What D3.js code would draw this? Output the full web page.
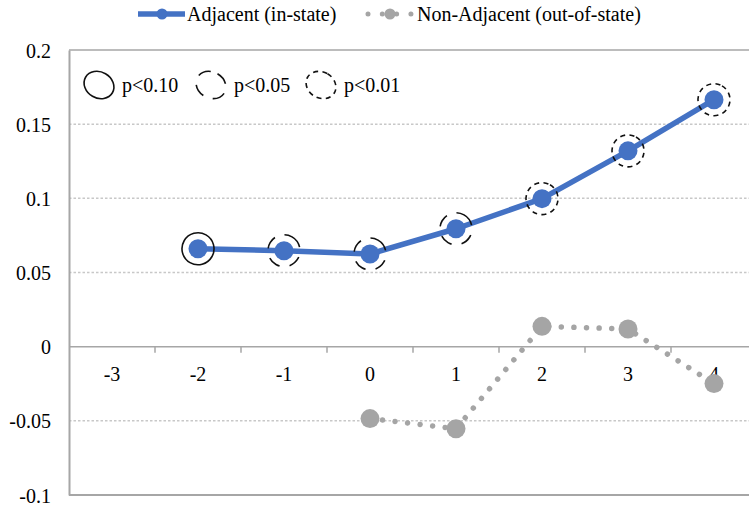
<!DOCTYPE html>
<html>
<head>
<meta charset="utf-8">
<script src="https://cdn.jsdelivr.net/npm/d3@7"></script>
<style>
  html, body { margin: 0; padding: 0; background: #fff; }
  svg { display: block; font-family: "Liberation Serif", "Times New Roman", serif; }
</style>
</head>
<body>
<svg id="chart" width="749" height="508"></svg>
<script>
// ---- data ----
const categories = ["-3", "-2", "-1", "0", "1", "2", "3", "4"];
const adjacentCats = ["-2", "-1", "0", "1", "2", "3", "4"];
const adjacentValues = [0.066, 0.0647, 0.0625, 0.0795, 0.0998, 0.132, 0.1665];
const adjacentSig = ["p10", "p05", "p05", "p05", "p01", "p01", "p01"];
const nonAdjCats = ["0", "1", "2", "3", "4"];
const nonAdjValues = [-0.0485, -0.0553, 0.0137, 0.0119, -0.0249];
const yTicks = [-0.1, -0.05, 0, 0.05, 0.1, 0.15, 0.2];
const yTickLabels = ["-0.1", "-0.05", "0", "0.05", "0.1", "0.15", "0.2"];
const seriesNames = ["Adjacent (in-state)", "Non-Adjacent (out-of-state)"];
const sigKeys = ["p10", "p05", "p01"];
const sigLabels = ["p<0.10", "p<0.05", "p<0.01"];

// ---- styles ----
const BLUE = "#4472C4", GRAY = "#A5A5A5", AXIS = "#A6A6A6", GRID = "#C8C8C8";
const sigDash = { p10: null, p05: "13 10", p01: "5 4.3" };

const svg = d3.select("#chart");
const pL = 69, pR = 757, pT = 50, pB = 495;

const x = d3.scaleBand().domain(categories).range([pL, pR]).padding(0);
const y = d3.scaleLinear().domain([-0.1, 0.2]).range([pB, pT]);
const cx = c => x(c) + x.bandwidth() / 2;
const isSolid = d => (d === 0.2 || d === 0 || d === -0.1);

// gridlines
svg.append("g").selectAll("line").data(yTicks).join("line")
  .attr("x1", pL).attr("x2", pR)
  .attr("y1", d => y(d)).attr("y2", d => y(d))
  .attr("stroke", d => isSolid(d) ? AXIS : GRID)
  .attr("stroke-width", d => (d === -0.1) ? 2 : 1.5)
  .attr("stroke-dasharray", d => isSolid(d) ? null : "2.5 2");

// y axis
const yAxis = d3.axisLeft(y).tickValues(yTicks)
  .tickFormat((d, i) => yTickLabels[i]).tickSize(0).tickPadding(18);
const gy = svg.append("g").attr("transform", `translate(${pL},0)`).call(yAxis);
gy.select(".domain").attr("stroke", AXIS).attr("stroke-width", 2);
gy.selectAll("text").attr("font-size", 20).attr("fill", "#000")
  .attr("font-family", "Liberation Serif, Times New Roman, serif").attr("dy", "0.35em");

// x axis at zero
const xAxis = d3.axisBottom(x).tickSize(0).tickPadding(20);
const gx = svg.append("g").attr("transform", `translate(0,${y(0)})`).call(xAxis);
gx.select(".domain").remove();
gx.selectAll("text").attr("font-size", 20).attr("fill", "#000")
  .attr("font-family", "Liberation Serif, Times New Roman, serif");
// boundary ticks
svg.append("g").selectAll("line").data(categories.slice(1)).join("line")
  .attr("x1", d => x(d)).attr("x2", d => x(d))
  .attr("y1", y(0)).attr("y2", y(0) + 6)
  .attr("stroke", AXIS).attr("stroke-width", 1.5);

// non-adjacent series
const nonAdj = nonAdjCats.map((c, i) => ({ c, v: nonAdjValues[i] }));
svg.append("path").datum(nonAdj)
  .attr("d", d3.line().x(d => cx(d.c)).y(d => y(d.v)))
  .attr("fill", "none").attr("stroke", GRAY).attr("stroke-width", 5.5)
  .attr("stroke-linecap", "round").attr("stroke-dasharray", "0.01 12.6");
svg.append("g").selectAll("circle").data(nonAdj).join("circle")
  .attr("cx", d => cx(d.c)).attr("cy", d => y(d.v)).attr("r", 9.5).attr("fill", GRAY);

// adjacent series
const adj = adjacentCats.map((c, i) => ({ c, v: adjacentValues[i], s: adjacentSig[i] }));
svg.append("path").datum(adj)
  .attr("d", d3.line().x(d => cx(d.c)).y(d => y(d.v)))
  .attr("fill", "none").attr("stroke", BLUE).attr("stroke-width", 5.5)
  .attr("stroke-linejoin", "round");
svg.append("g").selectAll("circle").data(adj).join("circle")
  .attr("cx", d => cx(d.c)).attr("cy", d => y(d.v)).attr("r", 9.5).attr("fill", BLUE);
// significance rings
svg.append("g").selectAll("circle").data(adj).join("circle")
  .attr("cx", d => cx(d.c)).attr("cy", d => y(d.v)).attr("r", 16)
  .attr("fill", "none").attr("stroke", "#111").attr("stroke-width", 1.6)
  .attr("stroke-dasharray", d => sigDash[d.s])
  .attr("transform", d => `rotate(-60 ${cx(d.c)} ${y(d.v)})`);

// significance legend
const sigX = [99, 211, 321];
const sg = svg.append("g");
sigKeys.forEach((k, i) => {
  sg.append("ellipse").attr("cx", sigX[i]).attr("cy", 85).attr("rx", 13).attr("ry", 15.5)
    .attr("fill", "none").attr("stroke", "#111").attr("stroke-width", 1.6)
    .attr("stroke-dasharray", sigDash[k])
    .attr("transform", `rotate(-60 ${sigX[i]} 85)`);
  sg.append("text").attr("x", sigX[i] + 23).attr("y", 85).attr("dy", "0.35em")
    .attr("font-size", 20).text(sigLabels[i]);
});

// series legend
const lg = svg.append("g");
lg.append("line").attr("x1", 138).attr("x2", 185).attr("y1", 14).attr("y2", 14)
  .attr("stroke", BLUE).attr("stroke-width", 5.5);
lg.append("circle").attr("cx", 162).attr("cy", 14).attr("r", 5.5).attr("fill", BLUE);
lg.append("text").attr("x", 187).attr("y", 14).attr("dy", "0.35em")
  .attr("font-size", 20).text(seriesNames[0]);
lg.append("line").attr("x1", 368).attr("x2", 411).attr("y1", 14).attr("y2", 14)
  .attr("stroke", GRAY).attr("stroke-width", 5).attr("stroke-linecap", "round")
  .attr("stroke-dasharray", "0.01 14.3");
lg.append("circle").attr("cx", 390).attr("cy", 14).attr("r", 5.5).attr("fill", GRAY);
lg.append("text").attr("x", 417).attr("y", 14).attr("dy", "0.35em")
  .attr("font-size", 20).text(seriesNames[1]);
</script>
</body>
</html>
